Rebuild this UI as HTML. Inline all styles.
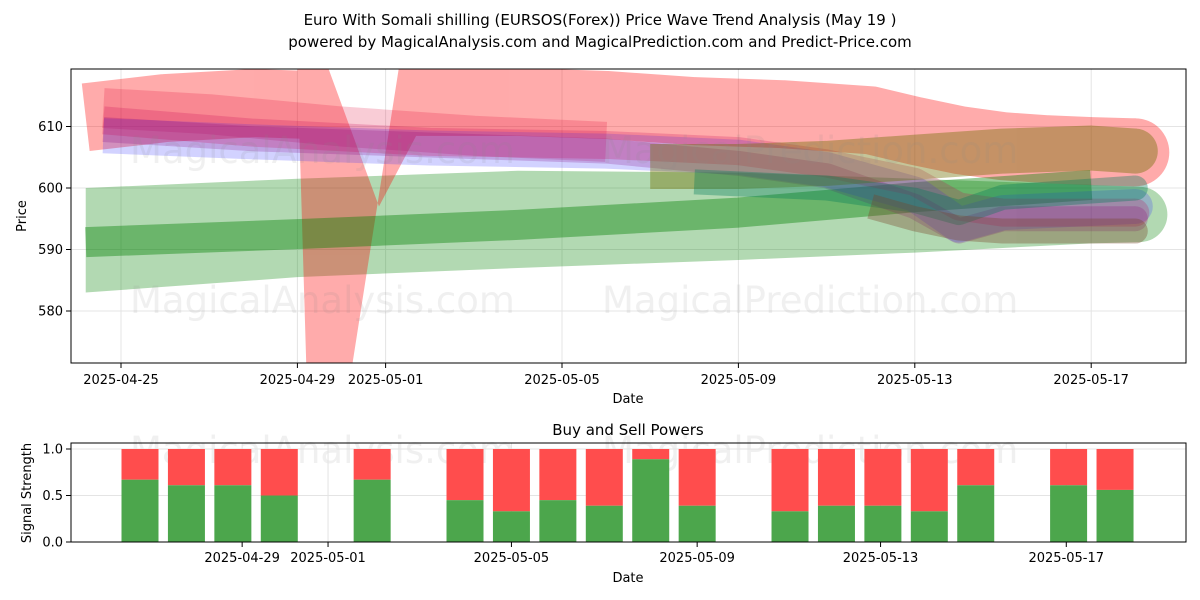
<!DOCTYPE html>
<html><head><meta charset="utf-8"><style>
body{margin:0;background:#fff;font-family:"Liberation Sans","DejaVu Sans",sans-serif}
svg{display:block}
text{font-family:"DejaVu Sans","Liberation Sans",sans-serif}
</style></head><body>
<svg id="c" width="1200" height="600" xmlns="http://www.w3.org/2000/svg">
<rect width="1200" height="600" fill="#fff"/>
<text x="600" y="25" text-anchor="middle" font-size="15">Euro With Somali shilling (EURSOS(Forex)) Price Wave Trend Analysis (May 19 )</text>
<text x="600" y="47" text-anchor="middle" font-size="15">powered by MagicalAnalysis.com and MagicalPrediction.com and Predict-Price.com</text>
<defs><clipPath id="clipTop"><rect x="71" y="69" width="1115" height="294"/></clipPath></defs>
<g id="topGrid"></g>
<g id="bands" clip-path="url(#clipTop)"></g>
<g font-size="37" fill="#888" fill-opacity="0.13">
<text x="130" y="163">MagicalAnalysis.com</text><text x="602" y="163">MagicalPrediction.com</text>
<text x="130" y="313">MagicalAnalysis.com</text><text x="602" y="313">MagicalPrediction.com</text>
<text x="130" y="463">MagicalAnalysis.com</text><text x="602" y="463">MagicalPrediction.com</text>
</g>
<rect x="71" y="69" width="1115" height="294" fill="none" stroke="#000" stroke-width="1"/>
<g id="topTicks" font-size="13"></g>
<text x="628" y="403" text-anchor="middle" font-size="13">Date</text>
<text transform="translate(26,216) rotate(-90)" text-anchor="middle" font-size="13">Price</text>
<text x="628" y="435" text-anchor="middle" font-size="15">Buy and Sell Powers</text>
<g id="botGrid"></g>
<g id="bars"></g>
<rect x="71" y="443" width="1115" height="99" fill="none" stroke="#000" stroke-width="1"/>
<g id="botTicks" font-size="13"></g>
<text x="628" y="582" text-anchor="middle" font-size="13">Date</text>
<text transform="translate(31,493) rotate(-90)" text-anchor="middle" font-size="13">Signal Strength</text>
</svg>
<script>
// ---- price chart data (day = days since 2025-04-24) ----
const priceTicks = [580, 590, 600, 610];
const dateTickDays = [1, 5, 7, 11, 15, 19, 23];
const dateTickLabels = ["2025-04-25","2025-04-29","2025-05-01","2025-05-05","2025-05-09","2025-05-13","2025-05-17"];
const redLeftDays = [0.2, 2, 4, 5.3];
const redLeftPrices = [611.5, 613, 613.8, 613.5];
const redVDays = [5.0, 5.2, 6.25, 7.3, 8.5, 6.85, 5.7];
const redVPrices = [619.5, 571.5, 571.5, 619.5, 619.5, 597, 619.5];
const redRightDays = [7.5, 10, 12, 14, 16, 18, 19, 20, 21, 22, 23, 24];
const redRightPrices = [614, 614, 613.5, 612.5, 612, 611, 609.3, 607.8, 606.8, 606.3, 606, 605.8];
const lgDays = [0.2, 5, 10, 15, 19, 23, 24.1];
const lgTop = [600, 601.5, 602.8, 602.5, 601.5, 600.5, 600.2];
const lgBottom = [583, 585.5, 587, 588.3, 589.5, 591, 591.2];
const bandDarkGreenDays = [0.2, 5, 10, 15, 19, 23];
const bandDarkGreenPrices = [591.2, 592.5, 594, 596, 598.5, 600.5];
const bandRedMidDays = [0.6, 3, 6, 9, 12];
const bandRedMidPrices = [613, 612, 610, 608.5, 607.5];
const bandMagentaDays = [0.6, 4, 8, 12, 15, 17, 19, 20, 21, 24];
const bandMagentaPrices = [611, 609, 607.5, 607, 606, 604, 601, 597, 596, 596];
const bandBlueDays = [0.6, 4, 8, 12, 15, 17, 19, 20, 21, 24];
const bandBluePrices = [608.5, 607.5, 606.5, 606, 605, 603, 599, 594, 596, 597];
const bandPurpleDays = [0.6, 4, 8, 12, 15, 17, 19, 20, 21, 24];
const bandPurplePrices = [609.5, 608, 607, 606, 604, 602, 597, 593, 595, 595];
const bandOliveDays = [13, 15, 17, 19, 21, 23, 24];
const bandOlivePrices = [603.5, 603.5, 604, 605, 606, 606.5, 606];
const bandTealDays = [14, 17, 19, 20, 21, 23, 24];
const bandTealPrices = [601, 600, 598, 596, 598.5, 599.5, 600];
const bandBrownDays = [18, 19, 20, 21, 23, 24];
const bandBrownPrices = [597, 595, 593.5, 593, 593, 593];
// ---- power chart data ----
const barLabels = ["04-26","04-27","04-28","04-29","04-30","05-01","05-02","05-03","05-04","05-05","05-06","05-07","05-08","05-09","05-10","05-11","05-12","05-13","05-14","05-15","05-16","05-17"];
const buyPower = [0.67,0.61,0.61,0.5,null,0.67,null,0.45,0.33,0.45,0.39,0.89,0.39,null,0.33,0.39,0.39,0.33,0.61,null,0.61,0.56];
const powerTicks = [0, 0.5, 1.0];
const powerDateTickPos = [2.2, 4.05, 8.0, 12.0, 15.95, 19.95];
const powerDateTickLabels = ["2025-04-29","2025-05-01","2025-05-05","2025-05-09","2025-05-13","2025-05-17"];

const NS="http://www.w3.org/2000/svg";
const X=d=>121+(d-1)*44.1;
const Y=p=>188-(p-600)*6.15;
const XB=i=>140+i*46.43;
const YB=v=>542-v*93;
function mk(tag,attrs,parent){const e=document.createElementNS(NS,tag);for(const k in attrs)e.setAttribute(k,attrs[k]);parent.appendChild(e);return e;}
const topGrid=document.getElementById('topGrid'),topTicks=document.getElementById('topTicks');
priceTicks.forEach(p=>{
  const g=mk('line',{x1:71,x2:1186,y1:Y(p),y2:Y(p),stroke:'#e4e4e4','stroke-width':1},topGrid);
  
  
  mk('line',{x1:66,x2:71,y1:Y(p),y2:Y(p),stroke:'#000'},topTicks);
  const t=mk('text',{x:63,y:Y(p)+4.5,'text-anchor':'end'},topTicks);t.textContent=p;
  
  
});
dateTickDays.forEach((d,i)=>{
  const g=mk('line',{x1:X(d),x2:X(d),y1:69,y2:363,stroke:'#e4e4e4'},topGrid);
  
  
  mk('line',{x1:X(d),x2:X(d),y1:363,y2:368,stroke:'#000'},topTicks);
  const t=mk('text',{x:X(d),y:384,'text-anchor':'middle'},topTicks);t.textContent=dateTickLabels[i];
  
  
});
const bands=document.getElementById('bands');
function grp(op,name){const g=mk('g',{opacity:op},bands);return g;}
function line(g,days,prices,width,color,cap){
  const pts=days.map((d,i)=>X(d)+','+Y(prices[i])).join(' ');
  mk('polyline',{points:pts,fill:'none',stroke:color,'stroke-width':width,'stroke-linejoin':'round','stroke-linecap':'butt'},g);
  if(cap){const n=days.length-1;mk('circle',{cx:X(days[n]),cy:Y(prices[n]),r:width/2,fill:color},g);}
}
function band(days,prices,width,color,op,name,cap){line(grp(op,name),days,prices,width,color,cap);}
// light green wide band (polygon)
{
  const g=grp(0.3,'light-green-band');
  const pts=lgDays.map((d,i)=>X(d)+','+Y(lgTop[i])).concat(lgDays.slice().reverse().map((d,i)=>{const k=lgDays.length-1-i;return X(d)+','+Y(lgBottom[k]);})).join(' ');
  mk('polygon',{points:pts,fill:'#008000'},g);
  const n=lgDays.length-1;
  mk('circle',{cx:X(lgDays[n]),cy:(Y(lgTop[n])+Y(lgBottom[n]))/2,r:(Y(lgBottom[n])-Y(lgTop[n]))/2,fill:'#008000'},g);
}
// red wave band with V
{
  const g=grp(0.33,'red-wave-band');
  line(g,redLeftDays,redLeftPrices,68,'#ff0000',false);
  const pts=redVDays.map((d,i)=>X(d)+','+Y(redVPrices[i])).join(' ');
  mk('polygon',{points:pts,fill:'#ff0000'},g);
  line(g,redRightDays,redRightPrices,68,'#ff0000',true);
}
band(bandDarkGreenDays,bandDarkGreenPrices,30,'#008000',0.4,'dark-green-band',false);
band(bandRedMidDays,bandRedMidPrices,40,'#e00030',0.2,'red-mid-band',false);
band(bandBlueDays,bandBluePrices,35,'#3030ff',0.22,'blue-band',true);
band(bandPurpleDays,bandPurplePrices,25,'#800080',0.22,'purple-band',true);
band(bandMagentaDays,bandMagentaPrices,28,'#c80050',0.22,'magenta-band',true);
band(bandOliveDays,bandOlivePrices,45,'#6e6e00',0.4,'olive-band',true);
band(bandTealDays,bandTealPrices,25,'#007a5a',0.35,'teal-band',true);
band(bandBrownDays,bandBrownPrices,25,'#784628',0.35,'brown-band',true);

const botGrid=document.getElementById('botGrid'),botTicks=document.getElementById('botTicks'),bars=document.getElementById('bars');
powerTicks.forEach(v=>{
  mk('line',{x1:71,x2:1186,y1:YB(v),y2:YB(v),stroke:'#e4e4e4'},botGrid);
  mk('line',{x1:66,x2:71,y1:YB(v),y2:YB(v),stroke:'#000'},botTicks);
  const t=mk('text',{x:63,y:YB(v)+4.5,'text-anchor':'end'},botTicks);t.textContent=v.toFixed(1);
  
  
});
powerDateTickPos.forEach((p,i)=>{
  const x=XB(p);
  mk('line',{x1:x,x2:x,y1:443,y2:542,stroke:'#e4e4e4'},botGrid);
  mk('line',{x1:x,x2:x,y1:542,y2:547,stroke:'#000'},botTicks);
  const t=mk('text',{x:x,y:562,'text-anchor':'middle'},botTicks);t.textContent=powerDateTickLabels[i];
  
  
});
buyPower.forEach((v,i)=>{
  if(v===null)return;
  const x=XB(i)-18.5;
  const r=mk('rect',{x:x,y:YB(1),width:37,height:YB(v)-YB(1),fill:'#ff4d4d'},bars);
  
  
  const g=mk('rect',{x:x,y:YB(v),width:37,height:YB(0)-YB(v),fill:'#4ca64c'},bars);
  
  
});
</script>
</body></html>
